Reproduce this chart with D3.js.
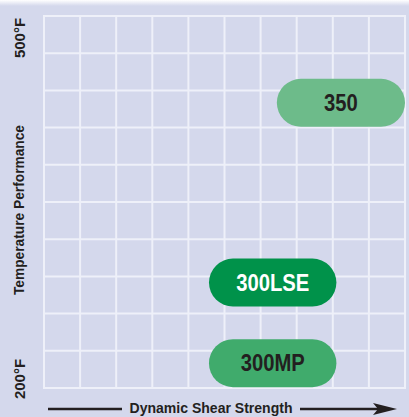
<!DOCTYPE html>
<html>
<head>
<meta charset="utf-8">
<script src="https://cdn.jsdelivr.net/npm/d3@7"></script>
<style>
	body { margin: 0; background: #ffffff; }
	svg text { font-family: "Liberation Sans", Arial, sans-serif; font-weight: bold; }
</style>
</head>
<body>
<div id="chart"></div>
<script>
// products, their strength span (0-10 grid units) and temperature (°F)
const products = ["350", "300LSE", "300MP"];
const strength_start = [6.45, 4.57, 4.57];
const strength_end = [10, 8.1, 8.1];
const temperature = [430, 285, 220];
const fills = ["#6dbb8a", "#00924a", "#40ab6c"];
const text_colors = ["#231f20", "#ffffff", "#231f20"];
const y_labels = ["200°F", "500°F"];
const y_domain = [200, 500];
const x_title = "Dynamic Shear Strength";
const y_title = "Temperature Performance";

const width = 409, height = 417;
const bg = "#d4d8ec";

let svg = d3.select("#chart").append("svg").attr("width", width).attr("height", height);

// top fade strip
let defs = svg.append("defs");
let grad = defs.append("linearGradient").attr("id", "topfade").attr("x1", 0).attr("y1", 0).attr("x2", 0).attr("y2", 1);
grad.append("stop").attr("offset", "0%").attr("stop-color", "#ffffff");
grad.append("stop").attr("offset", "100%").attr("stop-color", bg);
svg.append("rect").attr("width", width).attr("height", height).attr("fill", bg);
svg.append("rect").attr("width", width).attr("height", 6).attr("fill", "url(#topfade)");

let x = d3.scaleLinear().domain([0, 10]).range([44, 405]);
let y = d3.scaleLinear().domain(y_domain).range([388, 16]);

// grid, 10 x 10
let grid = svg.append("g").attr("stroke", "#eef0f9").attr("stroke-width", 2);
grid.selectAll(".vl").data(d3.range(0, 11)).enter().append("line")
	.attr("x1", d => x(d)).attr("x2", d => x(d))
	.attr("y1", y(y_domain[0]) + 1).attr("y2", y(y_domain[1]) - 1);
grid.selectAll(".hl").data(d3.range(y_domain[0], y_domain[1] + 1, 30)).enter().append("line")
	.attr("y1", d => y(d)).attr("y2", d => y(d))
	.attr("x1", x(0) - 1).attr("x2", x(10) + 1);

// pills
let pill_h = 48;
let pills = svg.selectAll(".pill").data(products).enter().append("g");
pills.append("rect")
	.attr("x", (d, i) => x(strength_start[i]))
	.attr("y", (d, i) => y(temperature[i]) - pill_h / 2)
	.attr("width", (d, i) => x(strength_end[i]) - x(strength_start[i]))
	.attr("height", pill_h)
	.attr("rx", pill_h / 2)
	.attr("fill", (d, i) => fills[i]);
// condensed label: squeeze horizontally around the pill centre
pills.append("text")
	.attr("transform", (d, i) => `translate(${(x(strength_start[i]) + x(strength_end[i])) / 2},${y(temperature[i]) + 8}) scale(0.88,1)`)
	.attr("text-anchor", "middle")
	.attr("font-size", 23)
	.attr("fill", (d, i) => text_colors[i])
	.text(d => d);

// y axis labels (rotated)
svg.append("text").attr("transform", `translate(25,${y(y_domain[1]) + 22}) rotate(-90)`)
	.attr("text-anchor", "middle").attr("font-size", 15).attr("fill", "#231f20").text(y_labels[1]);
svg.append("text").attr("transform", `translate(25,${y(y_domain[0]) - 9}) rotate(-90)`)
	.attr("text-anchor", "middle").attr("font-size", 15).attr("fill", "#231f20").text(y_labels[0]);
svg.append("text").attr("transform", `translate(24,${(y(y_domain[0]) + y(y_domain[1])) / 2 + 8}) rotate(-90)`)
	.attr("text-anchor", "middle").attr("font-size", 14).attr("fill", "#231f20")
	.attr("textLength", 170).attr("lengthAdjust", "spacingAndGlyphs").text(y_title);

// x axis title with arrow
svg.append("line").attr("x1", 48).attr("x2", 122).attr("y1", 409).attr("y2", 409)
	.attr("stroke", "#231f20").attr("stroke-width", 2.5);
svg.append("text").attr("x", 211).attr("y", 413).attr("text-anchor", "middle")
	.attr("font-size", 14).attr("fill", "#231f20")
	.attr("textLength", 163).attr("lengthAdjust", "spacingAndGlyphs").text(x_title);
svg.append("line").attr("x1", 300).attr("x2", 380).attr("y1", 409).attr("y2", 409)
	.attr("stroke", "#231f20").attr("stroke-width", 2.5);
svg.append("path").attr("d", "M373,403 L397,409 L373,415 L378,409 Z").attr("fill", "#231f20");
</script>
</body>
</html>
